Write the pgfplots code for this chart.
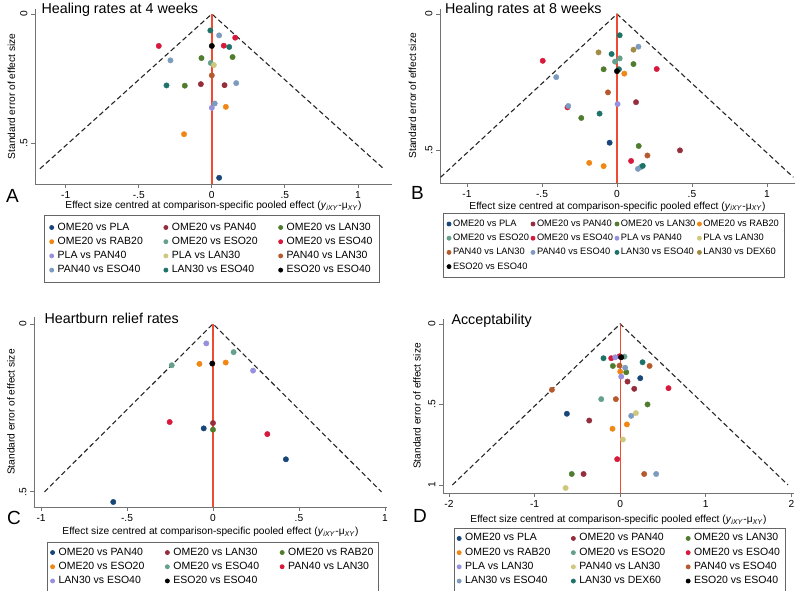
\documentclass[border=0pt]{standalone}
\usepackage{pgfplots}
\pgfplotsset{compat=1.18}
\usepackage{fontspec}
\setmainfont{Liberation Sans}
\definecolor{c1}{RGB}{25,70,120}
\definecolor{c2}{RGB}{150,45,60}
\definecolor{c3}{RGB}{80,125,45}
\definecolor{c4}{RGB}{240,135,20}
\definecolor{c5}{RGB}{100,160,140}
\definecolor{c6}{RGB}{215,25,60}
\definecolor{c7}{RGB}{150,145,220}
\definecolor{c8}{RGB}{205,200,125}
\definecolor{c9}{RGB}{180,90,45}
\definecolor{c10}{RGB}{125,155,190}
\definecolor{c11}{RGB}{30,115,105}
\definecolor{c12}{RGB}{160,140,70}
\definecolor{refline}{RGB}{240,75,50}
\pgfplotsset{
  pt/.style={only marks, mark=*, mark size=2.7pt, color=#1},
  refl/.style={draw=refline, color=refline, line width=1.4pt, forget plot, no markers},
  fun/.style={draw=black!85, line width=1.1pt, dash pattern=on 5pt off 3pt, forget plot, no markers},
  funnel/.style={
    scale only axis, y dir=reverse,
    axis x line*=bottom, axis y line*=left,
    axis line style={black!55, line width=0.8pt},
    tick style={black!55, line width=0.8pt},
    tick align=outside, major tick length=4pt,
    minor tick num=0,
    every axis title shift=0pt,
    every tick label/.append style={font=\fontsize{10.2}{12}\selectfont},
    yticklabel style={rotate=90, anchor=south},
    label style={font=\fontsize{10.2}{12}\selectfont},
    title style={font=\fontsize{14.3}{16}\selectfont, at={(axis description cs:0,1)}, anchor=base west},
    xlabel style={anchor=center},
    ylabel style={anchor=center, rotate=0},
    legend cell align=left,
    legend style={draw=black!60, line width=0.8pt, font=\fontsize{10.5}{12}\selectfont,
      anchor=north, row sep=0pt, inner sep=5pt,
      nodes={text height=7.6pt, text depth=2.6pt, inner sep=2pt},
      /tikz/every odd column/.append style={column sep=2pt},
      /tikz/every even column/.append style={column sep=19pt}},
    legend image code/.code={\draw[#1, mark size=2pt] plot coordinates {(0pt,0pt)};},
    ylabel={Standard error of effect size},
    xlabel={Effect size centred at comparison-specific pooled effect (\textit{y}\textsubscript{\textit{iXY}}-μ\textsubscript{\textit{XY}})},
  }
}
\begin{document}
\begin{tikzpicture}[x=1pt,y=1pt]
\useasboundingbox (0,0) rectangle (800,591);
% ---------------- A ----------------
\begin{axis}[funnel, at={(35pt,407pt)}, anchor=south west, width=357pt, height=175.2pt,
  xmin=-1.21, xmax=1.233, ymin=-0.02, ymax=0.659,
  xtick={-1,-0.5,0,0.5,1}, xticklabels={-1,-.5,0,.5,1},
  ytick={0,0.5}, yticklabels={0,.5},
  title={Healing rates at 4 weeks}, title style={xshift=3pt, yshift=-4.5pt},
  xlabel style={at={(axis description cs:0.5,-0.1256)}},
  ylabel style={at={(axis description cs:-0.0658,0.5)}},
  legend columns=3, legend style={at={(0.496,-0.177)}}]
\addplot[fun] coordinates {(-1.176,0.6) (0,0) (1.176,0.6)};
\addplot[refl] coordinates {(0,0) (0,0.659)};
\addplot[pt=c1] coordinates {(0.05,0.635)}; \addlegendentry{OME20 vs PLA}
\addplot[pt=c2] coordinates {(-0.075,0.272) (0.087,0.276)}; \addlegendentry{OME20 vs PAN40}
\addplot[pt=c3] coordinates {(-0.071,0.171) (0.142,0.167) (-0.185,0.278)}; \addlegendentry{OME20 vs LAN30}
\addplot[pt=c4] coordinates {(0.096,0.36) (-0.19,0.466)}; \addlegendentry{OME20 vs RAB20}
\addplot[pt=c5] coordinates {(-0.007,0.19)}; \addlegendentry{OME20 vs ESO20}
\addplot[pt=c6] coordinates {(0.16,0.092) (-0.363,0.124) (0.082,0.123)}; \addlegendentry{OME20 vs ESO40}
\addplot[pt=c7] coordinates {(0,0.364)}; \addlegendentry{PLA vs PAN40}
\addplot[pt=c8] coordinates {(0.014,0.198)}; \addlegendentry{PLA vs LAN30}
\addplot[pt=c9] coordinates {(0,0.238)}; \addlegendentry{PAN40 vs LAN30}
\addplot[pt=c10] coordinates {(0.05,0.083) (-0.283,0.18) (0.167,0.268) (0.02,0.347)}; \addlegendentry{PAN40 vs ESO40}
\addplot[pt=c11] coordinates {(-0.01,0.064) (0.119,0.128) (-0.31,0.277)}; \addlegendentry{LAN30 vs ESO40}
\addplot[pt=black] coordinates {(0,0.124)}; \addlegendentry{ESO20 vs ESO40}
\end{axis}
% ---------------- B ----------------
\begin{axis}[funnel, at={(440pt,408pt)}, anchor=south west, width=355pt, height=174.4pt,
  xmin=-1.18, xmax=1.187, ymin=-0.02, ymax=0.621,
  xtick={-1,-0.5,0,0.5,1}, xticklabels={-1,-.5,0,.5,1},
  ytick={0,0.5}, yticklabels={0,.5},
  title={Healing rates at 8 weeks}, title style={xshift=1.5pt, yshift=-4.5pt},
  xlabel style={at={(axis description cs:0.5,-0.1347)}},
  ylabel style={at={(axis description cs:-0.0775,0.5)}},
  legend columns=4, legend style={at={(0.49,-0.172)}, font=\fontsize{9.3}{11}\selectfont, inner sep=3.5pt,
    /tikz/every odd column/.append style={column sep=0pt},
    /tikz/every even column/.append style={column sep=0pt}}]
\addplot[fun] coordinates {(-1.176,0.6) (0,0) (1.176,0.6)};
\addplot[refl] coordinates {(0,0) (0,0.621)};
\addplot[pt=c1] coordinates {(-0.049,0.473)}; \addlegendentry{OME20 vs PLA}
\addplot[pt=c2] coordinates {(0.127,0.324) (0.42,0.501)}; \addlegendentry{OME20 vs PAN40}
\addplot[pt=c3] coordinates {(0.11,0.184) (-0.089,0.203) (-0.238,0.382) (0.145,0.485)}; \addlegendentry{OME20 vs LAN30}
\addplot[pt=c4] coordinates {(0.049,0.219) (-0.185,0.547) (-0.089,0.559)}; \addlegendentry{OME20 vs RAB20}
\addplot[pt=c5] coordinates {(0.018,0.163) (-0.013,0.175) (0.16,0.562)}; \addlegendentry{OME20 vs ESO20}
\addplot[pt=c6] coordinates {(-0.495,0.172) (0.265,0.202) (0.094,0.54) (-0.33,0.343)}; \addlegendentry{OME20 vs ESO40}
\addplot[pt=c7] coordinates {(0.004,0.331)}; \addlegendentry{PLA vs PAN40}
\addlegendimage{pt=c8} \addlegendentry{PLA vs LAN30}
\addplot[pt=c9] coordinates {(-0.06,0.288) (0.203,0.52)}; \addlegendentry{PAN40 vs LAN30}
\addplot[pt=c10] coordinates {(0.143,0.12) (-0.405,0.232) (-0.325,0.338) (0.14,0.569)}; \addlegendentry{PAN40 vs ESO40}
\addplot[pt=c11] coordinates {(0.018,0.078) (-0.036,0.147) (0.013,0.203) (-0.116,0.366) (0.172,0.558)}; \addlegendentry{LAN30 vs ESO40}
\addplot[pt=c12] coordinates {(0.11,0.131) (-0.123,0.141)}; \addlegendentry{LAN30 vs DEX60}
\addplot[pt=black] coordinates {(0,0.21)}; \addlegendentry{ESO20 vs ESO40}
\end{axis}
% ---------------- C ----------------
\begin{axis}[funnel, at={(34pt,84pt)}, anchor=south west, width=353pt, height=189.8pt,
  xmin=-1.041, xmax=1.012, ymin=-0.02, ymax=0.545,
  xtick={-1,-0.5,0,0.5,1}, xticklabels={-1,-.5,0,.5,1},
  ytick={0,0.5}, yticklabels={0,.5},
  title={Heartburn relief rates}, title style={xshift=7pt, yshift=-6pt},
  xlabel style={at={(axis description cs:0.5,-0.1317)}},
  ylabel style={at={(axis description cs:-0.065,0.5)}},
  legend columns=3, legend style={at={(0.507,-0.182)}, inner sep=3.5pt}]
\addplot[fun] coordinates {(-0.98,0.5) (0,0) (0.98,0.5)};
\addplot[refl] coordinates {(0,0) (0,0.545)};
\addplot[pt=c1] coordinates {(-0.054,0.311) (0.424,0.403) (-0.58,0.53)}; \addlegendentry{OME20 vs PAN40}
\addplot[pt=c2] coordinates {(0,0.295)}; \addlegendentry{OME20 vs LAN30}
\addplot[pt=c3] coordinates {(0,0.315)}; \addlegendentry{OME20 vs RAB20}
\addplot[pt=c4] coordinates {(-0.079,0.119) (0.074,0.115)}; \addlegendentry{OME20 vs ESO20}
\addplot[pt=c5] coordinates {(0.12,0.084) (-0.24,0.123)}; \addlegendentry{OME20 vs ESO40}
\addplot[pt=c6] coordinates {(-0.252,0.292) (0.316,0.328)}; \addlegendentry{PAN40 vs LAN30}
\addplot[pt=c7] coordinates {(-0.039,0.058) (0.233,0.139)}; \addlegendentry{LAN30 vs ESO40}
\addplot[pt=black] coordinates {(-0.004,0.118)}; \addlegendentry{ESO20 vs ESO40}
\end{axis}
% ---------------- D ----------------
\begin{axis}[funnel, at={(443pt,98pt)}, anchor=south west, width=351pt, height=173.9pt,
  xmin=-2.07, xmax=2.03, ymin=-0.03, ymax=1.05,
  xtick={-2,-1,0,1,2}, xticklabels={-2,-1,0,1,2},
  ytick={0,0.5,1}, yticklabels={0,.5,1},
  title={Acceptability}, title style={xshift=5pt, yshift=-5pt},
  xlabel style={at={(axis description cs:0.5,-0.155)}},
  ylabel style={at={(axis description cs:-0.074,0.5)}},
  legend columns=3, legend style={at={(0.503,-0.201)}, inner sep=3pt}]
\addplot[fun] coordinates {(-1.96,1) (0,0) (1.96,1)};
\addplot[refl] coordinates {(0,0) (0,1.05)};
\addplot[pt=c1] coordinates {(0.234,0.337) (-0.623,0.558)}; \addlegendentry{OME20 vs PLA}
\addplot[pt=c2] coordinates {(0.085,0.358) (0.164,0.403) (-0.362,0.6) (-0.428,0.932)}; \addlegendentry{OME20 vs PAN40}
\addplot[pt=c3] coordinates {(-0.086,0.261) (0.07,0.3) (0.319,0.5) (-0.566,0.932)}; \addlegendentry{OME20 vs LAN30}
\addplot[pt=c4] coordinates {(0,0.296) (0.078,0.624) (-0.09,0.651)}; \addlegendentry{OME20 vs RAB20}
\addplot[pt=c5] coordinates {(0.05,0.203) (-0.222,0.467)}; \addlegendentry{OME20 vs ESO20}
\addplot[pt=c6] coordinates {(-0.105,0.213) (-0.008,0.201) (0.564,0.399) (-0.035,0.84)}; \addlegendentry{OME20 vs ESO40}
\addplot[pt=c7] coordinates {(-0.058,0.207) (0.012,0.327)}; \addlegendentry{PLA vs LAN30}
\addplot[pt=c8] coordinates {(0.183,0.554) (0.031,0.718) (-0.638,1.019)}; \addlegendentry{PAN40 vs LAN30}
\addplot[pt=c9] coordinates {(0.343,0.261) (-0.008,0.259) (-0.798,0.409) (-0.051,0.467) (0.28,0.932)}; \addlegendentry{PAN40 vs ESO40}
\addplot[pt=c10] coordinates {(0.058,0.272) (0.128,0.571) (0.42,0.932)}; \addlegendentry{LAN30 vs ESO40}
\addplot[pt=c11] coordinates {(-0.195,0.213) (0.261,0.238)}; \addlegendentry{LAN30 vs DEX60}
\addplot[pt=black] coordinates {(0.012,0.207)}; \addlegendentry{ESO20 vs ESO40}
\end{axis}
% panel letters
\node[anchor=base west, font=\fontsize{19}{22}\selectfont, inner sep=0pt] at (6,388) {A};
\node[anchor=base west, font=\fontsize{19}{22}\selectfont, inner sep=0pt] at (411,391) {B};
\node[anchor=base west, font=\fontsize{19}{22}\selectfont, inner sep=0pt] at (7,66) {C};
\node[anchor=base west, font=\fontsize{19}{22}\selectfont, inner sep=0pt] at (413,68) {D};
\end{tikzpicture}
\end{document}
